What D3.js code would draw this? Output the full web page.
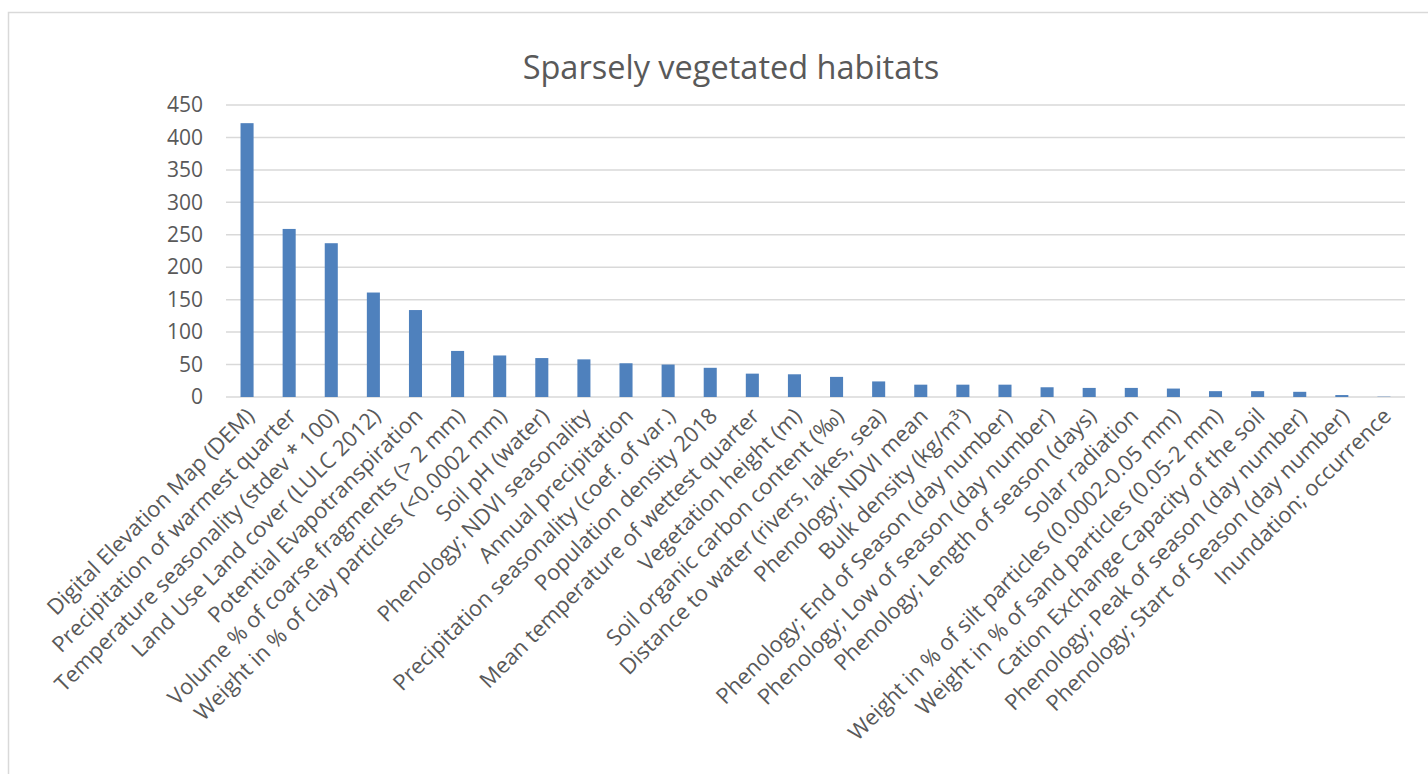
<!DOCTYPE html>
<html>
<head>
<meta charset="utf-8">
<script src="https://cdn.jsdelivr.net/npm/d3@7/dist/d3.min.js"></script>
<style>
  body { margin: 0; background: #fff; }
  text { font-family: "Open Sans", "Liberation Sans", sans-serif; fill: #595959; }
</style>
</head>
<body>
<div id="chart"></div>
<script>
// data
const categories = [
  "Digital Elevation Map (DEM)",
  "Precipitation of warmest quarter",
  "Temperature seasonality (stdev * 100)",
  "Land Use Land cover (LULC 2012)",
  "Potential Evapotranspiration",
  "Volume % of coarse fragments (> 2 mm)",
  "Weight in % of clay particles (<0.0002 mm)",
  "Soil pH (water)",
  "Phenology; NDVI seasonality",
  "Annual precipitation",
  "Precipitation seasonality (coef. of var.)",
  "Population density 2018",
  "Mean temperature of wettest quarter",
  "Vegetation height (m)",
  "Soil organic carbon content (‰)",
  "Distance to water (rivers, lakes, sea)",
  "Phenology; NDVI mean",
  "Bulk density (kg/m³)",
  "Phenology; End of Season (day number)",
  "Phenology; Low of season (day number)",
  "Phenology; Length of season (days)",
  "Solar radiation",
  "Weight in % of silt particles (0.0002-0.05 mm)",
  "Weight in % of sand particles (0.05-2 mm)",
  "Cation Exchange Capacity of the soil",
  "Phenology; Peak of season (day number)",
  "Phenology; Start of Season (day number)",
  "Inundation; occurrence"
];
const values = [422, 259, 237, 161, 134, 71, 64, 60, 58, 52, 50, 45, 36, 35, 31, 24,
  19, 19, 19, 15, 14, 14, 13, 9, 9, 8, 3, 0.5];
const yTicks = [0, 50, 100, 150, 200, 250, 300, 350, 400, 450];
const title = "Sparsely vegetated habitats";

const width = 1428;
const height = 774;

let svg = d3.select("#chart").append("svg")
  .attr("width", width)
  .attr("height", height);

// chart frame (runs off the right and bottom edges)
svg.append("rect")
  .attr("x", 8.5).attr("y", 12.5)
  .attr("width", width).attr("height", height)
  .attr("fill", "none")
  .attr("stroke", "#d9d9d9")
  .attr("stroke-width", 1.5);

const x = d3.scaleBand()
  .domain(categories)
  .range([226, 1405])
  .paddingInner(0.69)
  .paddingOuter(0.345);

const y = d3.scaleLinear()
  .domain([0, 450])
  .range([397, 105]);

// gridlines
svg.append("g")
  .selectAll("line")
  .data(yTicks)
  .enter().append("line")
    .attr("x1", 226).attr("x2", 1405)
    .attr("y1", d => y(d)).attr("y2", d => y(d))
    .attr("stroke", "#d9d9d9")
    .attr("stroke-width", 1.5);

// y axis labels
let yAxis = svg.append("g")
  .attr("transform", "translate(203,0)")
  .call(d3.axisLeft(y).tickValues(yTicks).tickSize(0).tickPadding(0));
yAxis.select(".domain").remove();
yAxis.selectAll("text")
  .attr("font-size", 21)
  .attr("font-family", null)
  .attr("fill", "#595959");

// bars
svg.append("g")
  .selectAll("rect")
  .data(values)
  .enter().append("rect")
    .attr("x", (d, i) => x(categories[i]))
    .attr("width", x.bandwidth())
    .attr("y", d => y(d))
    .attr("height", d => y(0) - y(d))
    .attr("fill", "#4f81bd");

// rotated category labels
svg.append("g")
  .selectAll("text")
  .data(categories)
  .enter().append("text")
    .attr("transform", d => `translate(${x(d) + x.bandwidth() / 2 + 3},${412}) rotate(-45)`)
    .attr("text-anchor", "end")
    .attr("dy", "0.35em")
    .attr("font-size", 22)
    .text(d => d);

svg.append("text")
  .attr("x", 731)
  .attr("y", 79)
  .attr("text-anchor", "middle")
  .attr("font-size", 32.5)
  .text(title);
</script>
</body>
</html>
